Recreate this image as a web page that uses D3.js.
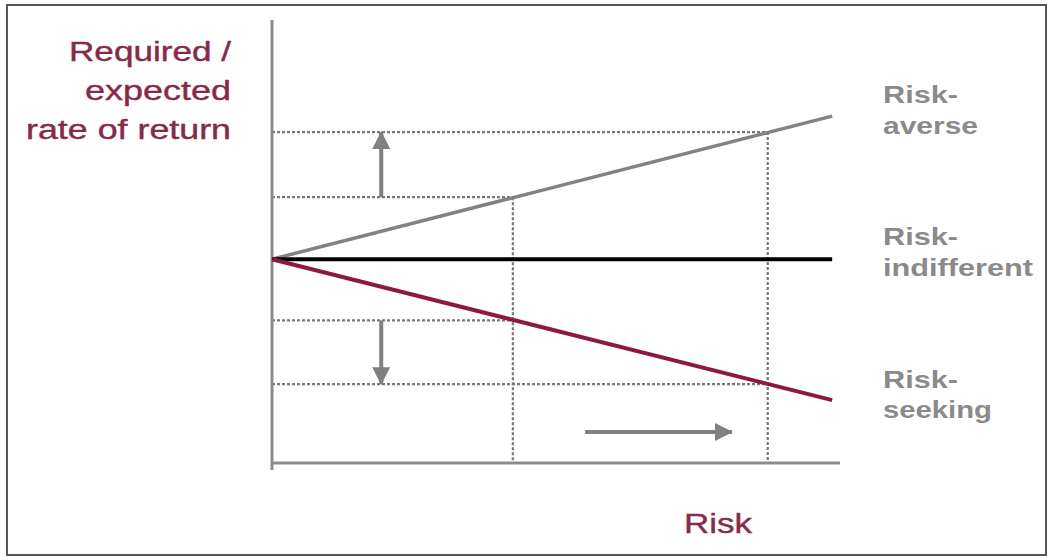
<!DOCTYPE html>
<html>
<head>
<meta charset="utf-8">
<script src="https://cdn.jsdelivr.net/npm/d3@7"></script>
<style>
  html, body { margin: 0; padding: 0; background: #fff; }
  svg { display: block; }
</style>
</head>
<body>
<svg id="chart" width="1048" height="557"></svg>
<script>
// ---- data ----
const riskRange = [0, 10];             // start and end of the three lines
const axisMax = { risk: 10.14, ret: 10 };
const seriesNames = ["Risk-averse", "Risk-indifferent", "Risk-seeking"];
const averse = [4.6, 7.83];
const indifferent = [4.6, 4.6];
const seeking = [4.6, 1.42];
const riskMarks = [4.3, 8.85];         // dotted vertical guides
const averseAtMarks = [6.0, 7.47];     // upper dotted levels
const seekingAtMarks = [3.22, 1.78];   // lower dotted levels
const upArrow = { risk: 1.95, from: 6.0, to: 7.47 };
const downArrow = { risk: 1.95, from: 3.22, to: 1.78 };
const rightArrow = { ret: 0.7, from: 5.59, to: 8.21 };
const yTitle = ["Required /", "expected", "rate of return"];
const xTitle = "Risk";
const labelLines = [["Risk-", "averse"], ["Risk-", "indifferent"], ["Risk-", "seeking"]];

// ---- scales ----
const x = d3.scaleLinear().domain([0, axisMax.risk]).range([272, 840]);
const y = d3.scaleLinear().domain([0, axisMax.ret]).range([463, 20]);

const svg = d3.select("#chart");

// frame
svg.append("rect").attr("x", 7).attr("y", 5).attr("width", 1039).attr("height", 550)
  .attr("fill", "none").attr("stroke", "#555").attr("stroke-width", 2);

// arrow marker
svg.append("defs").append("marker")
  .attr("id", "head").attr("markerUnits", "userSpaceOnUse")
  .attr("markerWidth", 18).attr("markerHeight", 18)
  .attr("refX", 17).attr("refY", 9).attr("orient", "auto")
  .append("path").attr("d", "M0,0 L18,9 L0,18 Z").attr("fill", "#808080");

const dotted = { stroke: "#777", width: 2.2, dash: "3,2" };

// dotted horizontals
const levels = [];
riskMarks.forEach((r, i) => {
  levels.push({ r, v: averseAtMarks[i] });
  levels.push({ r, v: seekingAtMarks[i] });
});
svg.selectAll(".hg").data(levels).enter().append("line")
  .attr("x1", x(0)).attr("x2", d => x(d.r))
  .attr("y1", d => y(d.v)).attr("y2", d => y(d.v))
  .attr("stroke", dotted.stroke).attr("stroke-width", dotted.width)
  .attr("stroke-dasharray", dotted.dash);

// dotted verticals
svg.selectAll(".vg").data(riskMarks).enter().append("line")
  .attr("x1", d => x(d)).attr("x2", d => x(d))
  .attr("y1", (d, i) => y(averseAtMarks[i])).attr("y2", y(0))
  .attr("stroke", dotted.stroke).attr("stroke-width", dotted.width)
  .attr("stroke-dasharray", dotted.dash);

// axes (plain lines, no ticks)
svg.append("line").attr("x1", x(0)).attr("x2", x(0)).attr("y1", y(axisMax.ret)).attr("y2", y(0) + 7)
  .attr("stroke", "#8c8c8c").attr("stroke-width", 3);
svg.append("line").attr("x1", x(0)).attr("x2", x(axisMax.risk)).attr("y1", y(0)).attr("y2", y(0))
  .attr("stroke", "#8c8c8c").attr("stroke-width", 3);

// series lines
const lineGen = d3.line().x(d => x(d[0])).y(d => y(d[1]));
const series = [
  { vals: averse, color: "#828282", w: 3.5 },
  { vals: indifferent, color: "#000", w: 4 },
  { vals: seeking, color: "#8c1a40", w: 4 }
];
svg.selectAll(".series").data(series).enter().append("path")
  .attr("d", s => lineGen(riskRange.map((r, i) => [r, s.vals[i]])))
  .attr("fill", "none").attr("stroke", s => s.color).attr("stroke-width", s => s.w);

// arrows
function arrow(x1, y1, x2, y2) {
  svg.append("line").attr("x1", x1).attr("y1", y1).attr("x2", x2).attr("y2", y2)
    .attr("stroke", "#808080").attr("stroke-width", 4).attr("marker-end", "url(#head)");
}
arrow(x(upArrow.risk), y(upArrow.from), x(upArrow.risk), y(upArrow.to));
arrow(x(downArrow.risk), y(downArrow.from), x(downArrow.risk), y(downArrow.to));
arrow(x(rightArrow.from), y(rightArrow.ret), x(rightArrow.to), y(rightArrow.ret));

// text helper with horizontal stretch
function txt(str, px, py, size, color, weight, len, anchor) {
  const t = svg.append("text").attr("x", px).attr("y", py)
    .attr("font-family", "Liberation Sans, Arial, sans-serif")
    .attr("font-size", size).attr("font-weight", weight).attr("fill", color)
    .attr("text-anchor", anchor || "start").text(str);
  if (len) t.attr("textLength", len).attr("lengthAdjust", "spacingAndGlyphs");
  return t;
}

// y title (right aligned at x=231)
const yLens = [162, 146, 205];
const yBase = [61, 100, 139];
yTitle.forEach((s, i) => txt(s, 231 - yLens[i], yBase[i], 27, "#872a4a", "normal", yLens[i])
  .attr("stroke", "#872a4a").attr("stroke-width", 0.4));

// x title
txt(xTitle, 684, 533, 28, "#872a4a", "normal", 68).attr("stroke", "#872a4a").attr("stroke-width", 0.4);

// right labels
const labelY = [[103, 134], [245, 276], [388, 418]];
const labelLens = [[75, 95], [75, 150], [75, 109]];
labelLines.forEach((lines, i) => {
  lines.forEach((s, j) => txt(s, 883, labelY[i][j], 24, "#8a8a8a", "bold", labelLens[i][j]));
});
</script>
</body>
</html>
